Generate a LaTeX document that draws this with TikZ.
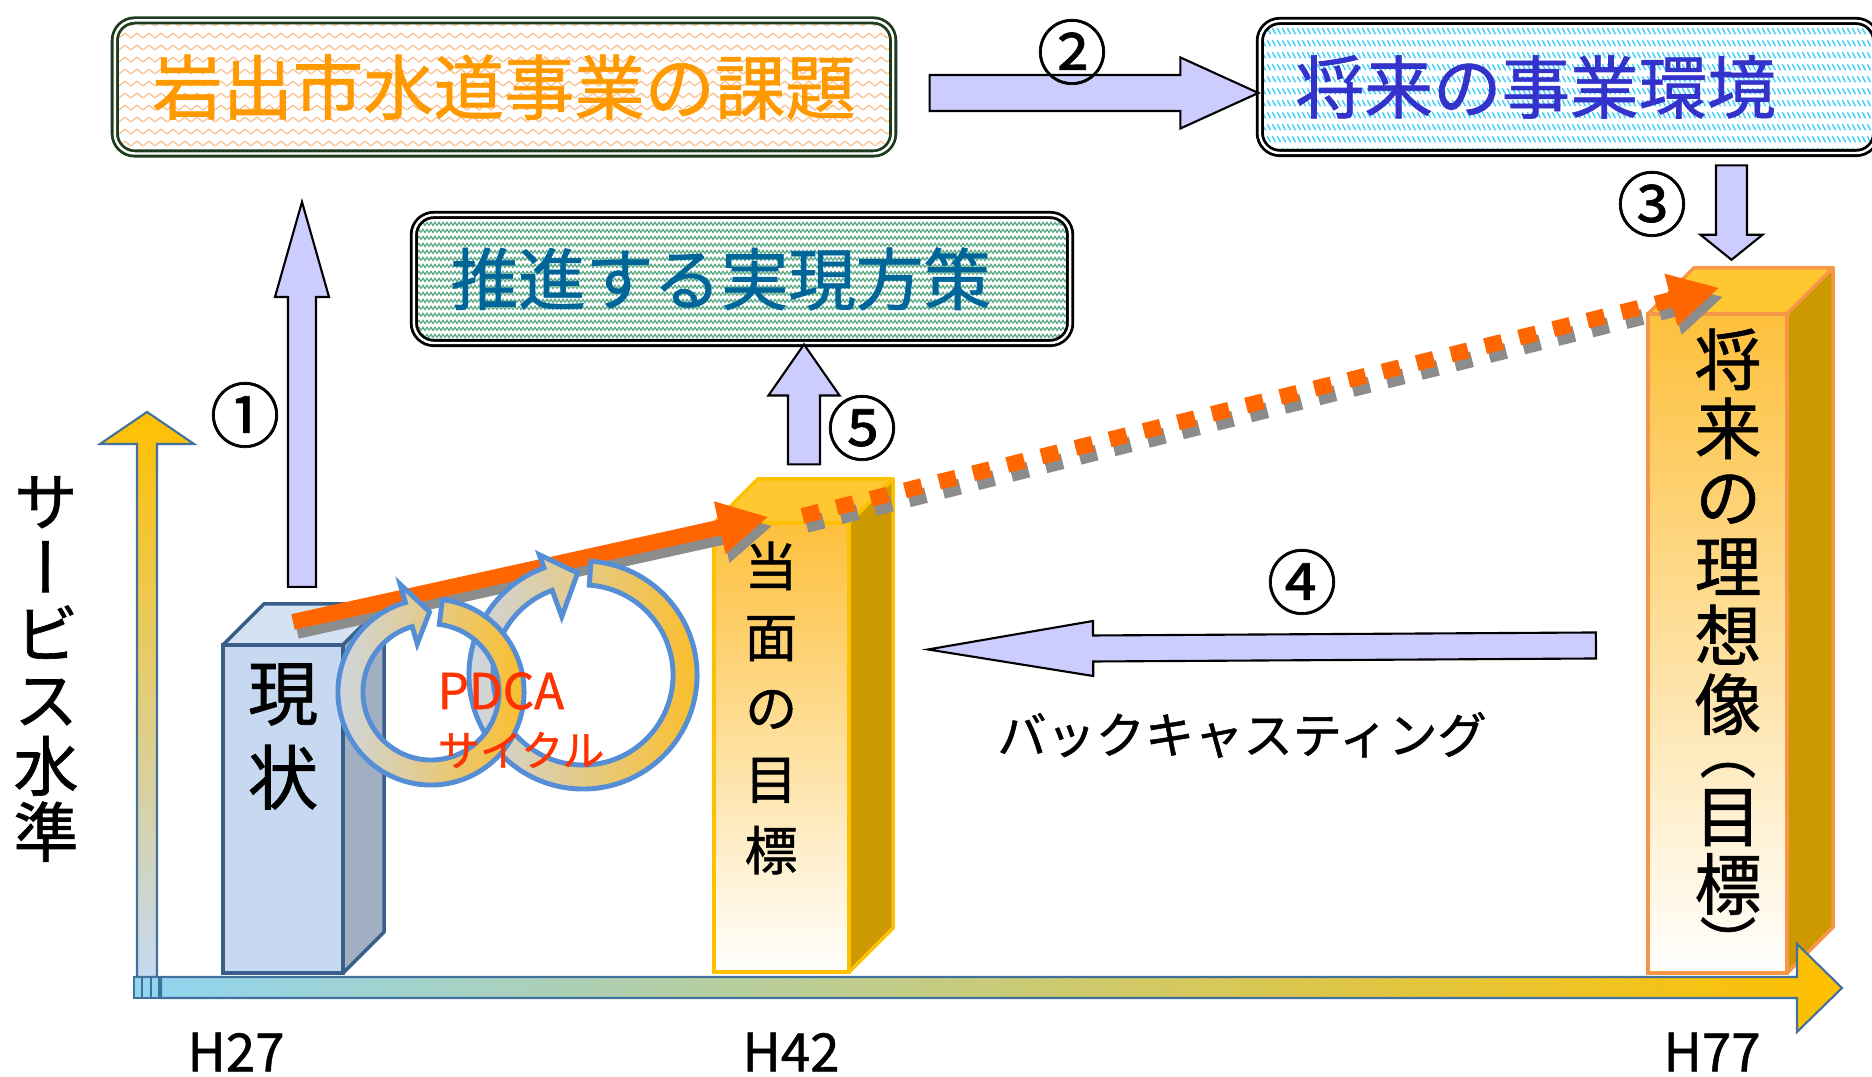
\documentclass[tikz,border=0pt]{standalone}
\usepackage{fontspec}
\setmainfont{Noto Sans CJK JP}[FakeBold=1]
\newfontfamily\tatefont[RawFeature=+vert,FakeBold=1]{Noto Sans CJK JP}
\usetikzlibrary{calc,positioning,arrows.meta,patterns.meta}

\definecolor{issueorange}{RGB}{255,153,0}
\definecolor{issueline}{RGB}{250,192,144}
\definecolor{boxgreen}{RGB}{29,59,29}
\definecolor{envblue}{RGB}{51,51,204}
\definecolor{envline}{RGB}{51,204,255}
\definecolor{planblue}{RGB}{0,102,153}
\definecolor{planline}{RGB}{95,170,135}
\definecolor{lavender}{RGB}{204,204,255}
\definecolor{nowfront}{RGB}{198,217,240}
\definecolor{nowside}{RGB}{161,175,194}
\definecolor{nowtop}{RGB}{212,226,244}
\definecolor{nowedge}{RGB}{58,95,139}
\definecolor{goldfill}{RGB}{255,192,0}
\definecolor{goldtop}{RGB}{255,200,48}
\definecolor{goldside}{RGB}{204,153,0}
\definecolor{neartop}{RGB}{253,192,60}
\definecolor{idealedge}{RGB}{247,150,70}
\definecolor{pdcared}{RGB}{255,51,0}
\definecolor{trend}{RGB}{255,102,0}
\definecolor{ringblue}{RGB}{205,214,228}
\definecolor{ringorange}{RGB}{252,190,40}
\definecolor{ringedge}{RGB}{85,142,213}
\definecolor{axisblue}{RGB}{146,213,239}
\definecolor{axispale}{RGB}{197,217,241}
\definecolor{axisedge}{RGB}{65,113,156}

\tikzdeclarepattern{
  name=zigzag,
  bottom left={(0pt,0pt)},
  top right={(3.4pt,3.3pt)},
  tile size={(3.4pt,3.3pt)},
  code={\draw[line width=0.35pt] (0pt,0.9pt) -- (1.7pt,2.3pt) -- (3.4pt,0.9pt);}
}
\tikzdeclarepattern{
  name=rain,
  bottom left={(0pt,0pt)},
  top right={(1.3pt,3.4pt)},
  tile size={(1.3pt,3.4pt)},
  code={\draw[line width=0.4pt] (0.1pt,2.5pt) -- (1.1pt,0.8pt);}
}
\tikzdeclarepattern{
  name=weave,
  bottom left={(0pt,0pt)},
  top right={(2.4pt,2pt)},
  tile size={(2.4pt,2pt)},
  code={\draw[line width=0.4pt] (0pt,0.5pt) -- (0.6pt,1.5pt) -- (1.2pt,0.5pt) -- (1.8pt,1.5pt) -- (2.4pt,0.5pt);}
}

% block arrow: from, to, shaft half width, head half width, head length
\newcommand\fatarrow[5]{%
  \coordinate (fa-base) at ($(#2)!#5!(#1)$);
  \draw[fat] ($(#1)!#3!90:(#2)$) -- ($(fa-base)!#3!90:(#2)$) -- ($(fa-base)!#4!90:(#2)$) -- (#2)
    -- ($(fa-base)!#4!-90:(#2)$) -- ($(fa-base)!#3!-90:(#2)$) -- ($(#1)!#3!-90:(#2)$) -- cycle;
}
% top and side faces of a bar: node, depth, top colour, side colour, edge colour
\newcommand\drawbox[5]{%
  \filldraw[fill=#3, draw=#5, line width=1pt, line join=round]
    (#1.north west) -- ++(#2,#2) -- ($(#1.north east)+(#2,#2)$) -- (#1.north east) -- cycle;
  \filldraw[fill=#4, draw=#5, line width=1pt, line join=round]
    (#1.north east) -- ++(#2,#2) -- ($(#1.south east)+(#2,#2)$) -- (#1.south east) -- cycle;
}

\begin{document}
\begin{tikzpicture}[x=0.01cm,y=0.01cm,
  titlebox/.style={draw, double=white, double distance=0.7pt, line width=0.8pt,
    rounded corners=0.2cm, preaction={fill=white}, inner sep=0pt},
  front/.style={draw, line width=1.1pt, outer sep=0pt, inner sep=0pt},
  fat/.style={draw=black, fill=lavender, line width=0.6pt},
  num/.style={font=\fontsize{20}{20}\selectfont, inner sep=0pt},
  ring/.style={draw=ringedge, line width=1.4pt, left color=ringblue, right color=ringorange},
  trendline/.style={trend, line width=4.5pt, -{Triangle[length=0.5cm,width=0.5cm]}},
  trendshadow/.style={black!45, line width=4.5pt, -{Triangle[length=0.5cm,width=0.5cm]}},
  axisarrow/.style={draw=axisedge, line width=0.6pt},
  tate/.style={align=center, inner sep=0pt},
  bracket/.style={rotate=-90, inner sep=0pt, font=\fontsize{16}{16}\selectfont}]
\useasboundingbox (0,0) rectangle (1872,1077);

% title boxes
\node[titlebox, draw=boxgreen, pattern=zigzag, pattern color=issueline,
  minimum width=7.78cm, minimum height=1.33cm, text=issueorange,
  font=\fontsize{20}{20}\selectfont] (issue) at (504,990) {岩出市水道事業の課題};
\node[titlebox, draw=black, pattern=rain, pattern color=envline,
  minimum width=6.16cm, minimum height=1.32cm, text width=5.44cm, align=left,
  text=envblue, font=\fontsize{19.5}{19.5}\selectfont] (env) at (1568,990) {将来の事業環境};
\node[titlebox, draw=black, pattern=weave, pattern color=planline,
  minimum width=6.56cm, minimum height=1.28cm, text width=5.82cm, align=left,
  text=planblue, font=\fontsize{19.2}{19.2}\selectfont] (plan) at (742,798) {推進する実現方策};

% bars
\node[front, draw=nowedge, fill=nowfront, minimum width=1.2cm, minimum height=3.28cm] (now) at (283,268) {};
\drawbox{now}{41}{nowtop}{nowside}{nowedge}
\node[front, draw=goldfill, top color=neartop, bottom color=white,
  minimum width=1.35cm, minimum height=4.49cm] (near) at (781.5,329.5) {};
\drawbox{near}{44}{goldtop}{goldside}{goldfill}
\node[front, draw=idealedge, top color=neartop, bottom color=white,
  minimum width=1.39cm, minimum height=6.59cm] (ideal) at (1717.5,433.5) {};
\drawbox{ideal}{46}{goldtop}{goldside}{idealedge}

% level trend
\coordinate (now-top) at ($(now.north)+(10,23)$);
\coordinate (near-top) at ($(near.north)+(-13,6)$);
\coordinate (near-start) at ($(near.north)+(21,7)$);
\coordinate (ideal-top) at ($(ideal.north)+(2,26)$);
\draw[trendshadow] ($(now-top)+(4,-9)$) -- ($(near-top)+(4,-9)$);
\draw[trendline] (now-top) -- (near-top);
\draw[trendshadow, dash pattern=on 5pt off 5pt] ($(near-start)+(4,-9)$) -- ($(ideal-top)+(4,-9)$);
\draw[trendline, dash pattern=on 5pt off 5pt] (near-start) -- (ideal-top);

% PDCA rings
\coordinate (r2) at (583,402);
\draw[ring] ($(r2)+(86:1.14cm)$) arc[start angle=86, end angle=-250, radius=1.14cm]
  -- ($(r2)+(110:1.28cm)$) -- ($(r2)+(93:1.02cm)$) -- ($(r2)+(110:0.62cm)$)
  -- ($(r2)+(110:0.9cm)$) arc[start angle=-250, end angle=86, radius=0.9cm] -- cycle;
\coordinate (r1) at (431,385);
\draw[ring] ($(r1)+(83:0.93cm)$) arc[start angle=83, end angle=-254, radius=0.93cm]
  -- ($(r1)+(106:1.12cm)$) -- ($(r1)+(91:0.8cm)$) -- ($(r1)+(106:0.5cm)$)
  -- ($(r1)+(106:0.68cm)$) arc[start angle=-254, end angle=83, radius=0.68cm] -- cycle;
\node[text=pdcared, font=\fontsize{14}{14}\selectfont, anchor=west, inner sep=0pt] (pdca) at (437,386) {PDCA};
\node[text=pdcared, font=\fontsize{12}{12}\selectfont, anchor=west, inner sep=0pt] (pdca-sub) at (437,327) {サイクル};

% block arrows
\coordinate (a1s) at ($(now.north)+(19,58)$);
\coordinate (a1e) at ($(a1s |- issue.south)+(0,-47)$);
\fatarrow{a1s}{a1e}{0.14cm}{0.27cm}{0.95cm}
\coordinate (a2s) at ($(issue.east)+(35,-6)$);
\coordinate (a2e) at ($(env.west)+(0,-6)$);
\fatarrow{a2s}{a2e}{0.18cm}{0.355cm}{0.78cm}
\coordinate (a3s) at ($(env.south)+(163.5,-11)$);
\coordinate (a3e) at ($(ideal.north)+(14,54)$);
\fatarrow{a3s}{a3e}{0.155cm}{0.31cm}{0.25cm}
\coordinate (a4s) at ($(ideal.west)+(-52,-2)$);
\coordinate (a4e) at ($(near.east)+(79,98)$);
\fatarrow{a4s}{a4e}{0.13cm}{0.275cm}{1.65cm}
\coordinate (a5e) at ($(plan.south)+(62,0)$);
\coordinate (a5s) at ($(a5e)+(0,-120)$);
\fatarrow{a5s}{a5e}{0.16cm}{0.355cm}{0.51cm}

% axes
\draw[axisarrow, bottom color=axispale, top color=goldfill]
  (137,100) -- (137,633) -- (100,633) -- (147,665) -- (194,633) -- (157,633) -- (157,100) -- cycle;
\draw[axisarrow, left color=axisblue, right color=goldfill]
  (161,79) -- (1797,79) -- (1797,45) -- (1842,89) -- (1797,133) -- (1797,100) -- (161,100) -- cycle;
\draw[axisarrow, fill=axisblue] (134,79) rectangle (159,100);
\draw[axisedge, line width=0.3pt] (142,79) -- (142,100) (151,79) -- (151,100);

% labels
\node[num] (c1) at (245,662) {①};
\node[num] (c2) at (1072,1025) {②};
\node[num] (c3) at (1652,873) {③};
\node[num] (c4) at (1302,495) {④};
\node[num] (c5) at (862,649) {⑤};
\node[font=\fontsize{14}{14}\selectfont] (backcast) at (1242,342) {バックキャスティング};
\node[font=\fontsize{15}{15}\selectfont] (h27) at (236,25) {H27};
\node[font=\fontsize{15}{15}\selectfont] (h42) at (791,25) {H42};
\node[font=\fontsize{15}{15}\selectfont] (h77) at (1712,25) {H77};
\node[tate, font={\tatefont\fontsize{18.5}{18.8}\selectfont\lineskiplimit=-20pt}] (level) at (46,408)
  {サ\\ー\\ビ\\ス\\水\\準};
\node[tate, font={\tatefont\fontsize{20}{24}\selectfont\lineskiplimit=-20pt}] (now-text) at (283,340.5)
  {現\\状};
\node[tate, font={\tatefont\fontsize{15}{20.2}\selectfont\lineskiplimit=-20pt}] (near-text) at (771,369)
  {当\\面\\の\\目\\標};
\node[tate, anchor=north, font={\tatefont\fontsize{19}{19.6}\selectfont\lineskiplimit=-20pt}] (ideal-text) at (1728,749)
  {将\\来\\の\\理\\想\\像};
\node[bracket] (ideal-open) at (1728,325) {（};
\node[tate, font={\tatefont\fontsize{19}{19.4}\selectfont\lineskiplimit=-20pt}] (ideal-goal) at (1728,225)
  {目\\標};
\node[bracket] (ideal-close) at (1728,134) {）};
\end{tikzpicture}
\end{document}
